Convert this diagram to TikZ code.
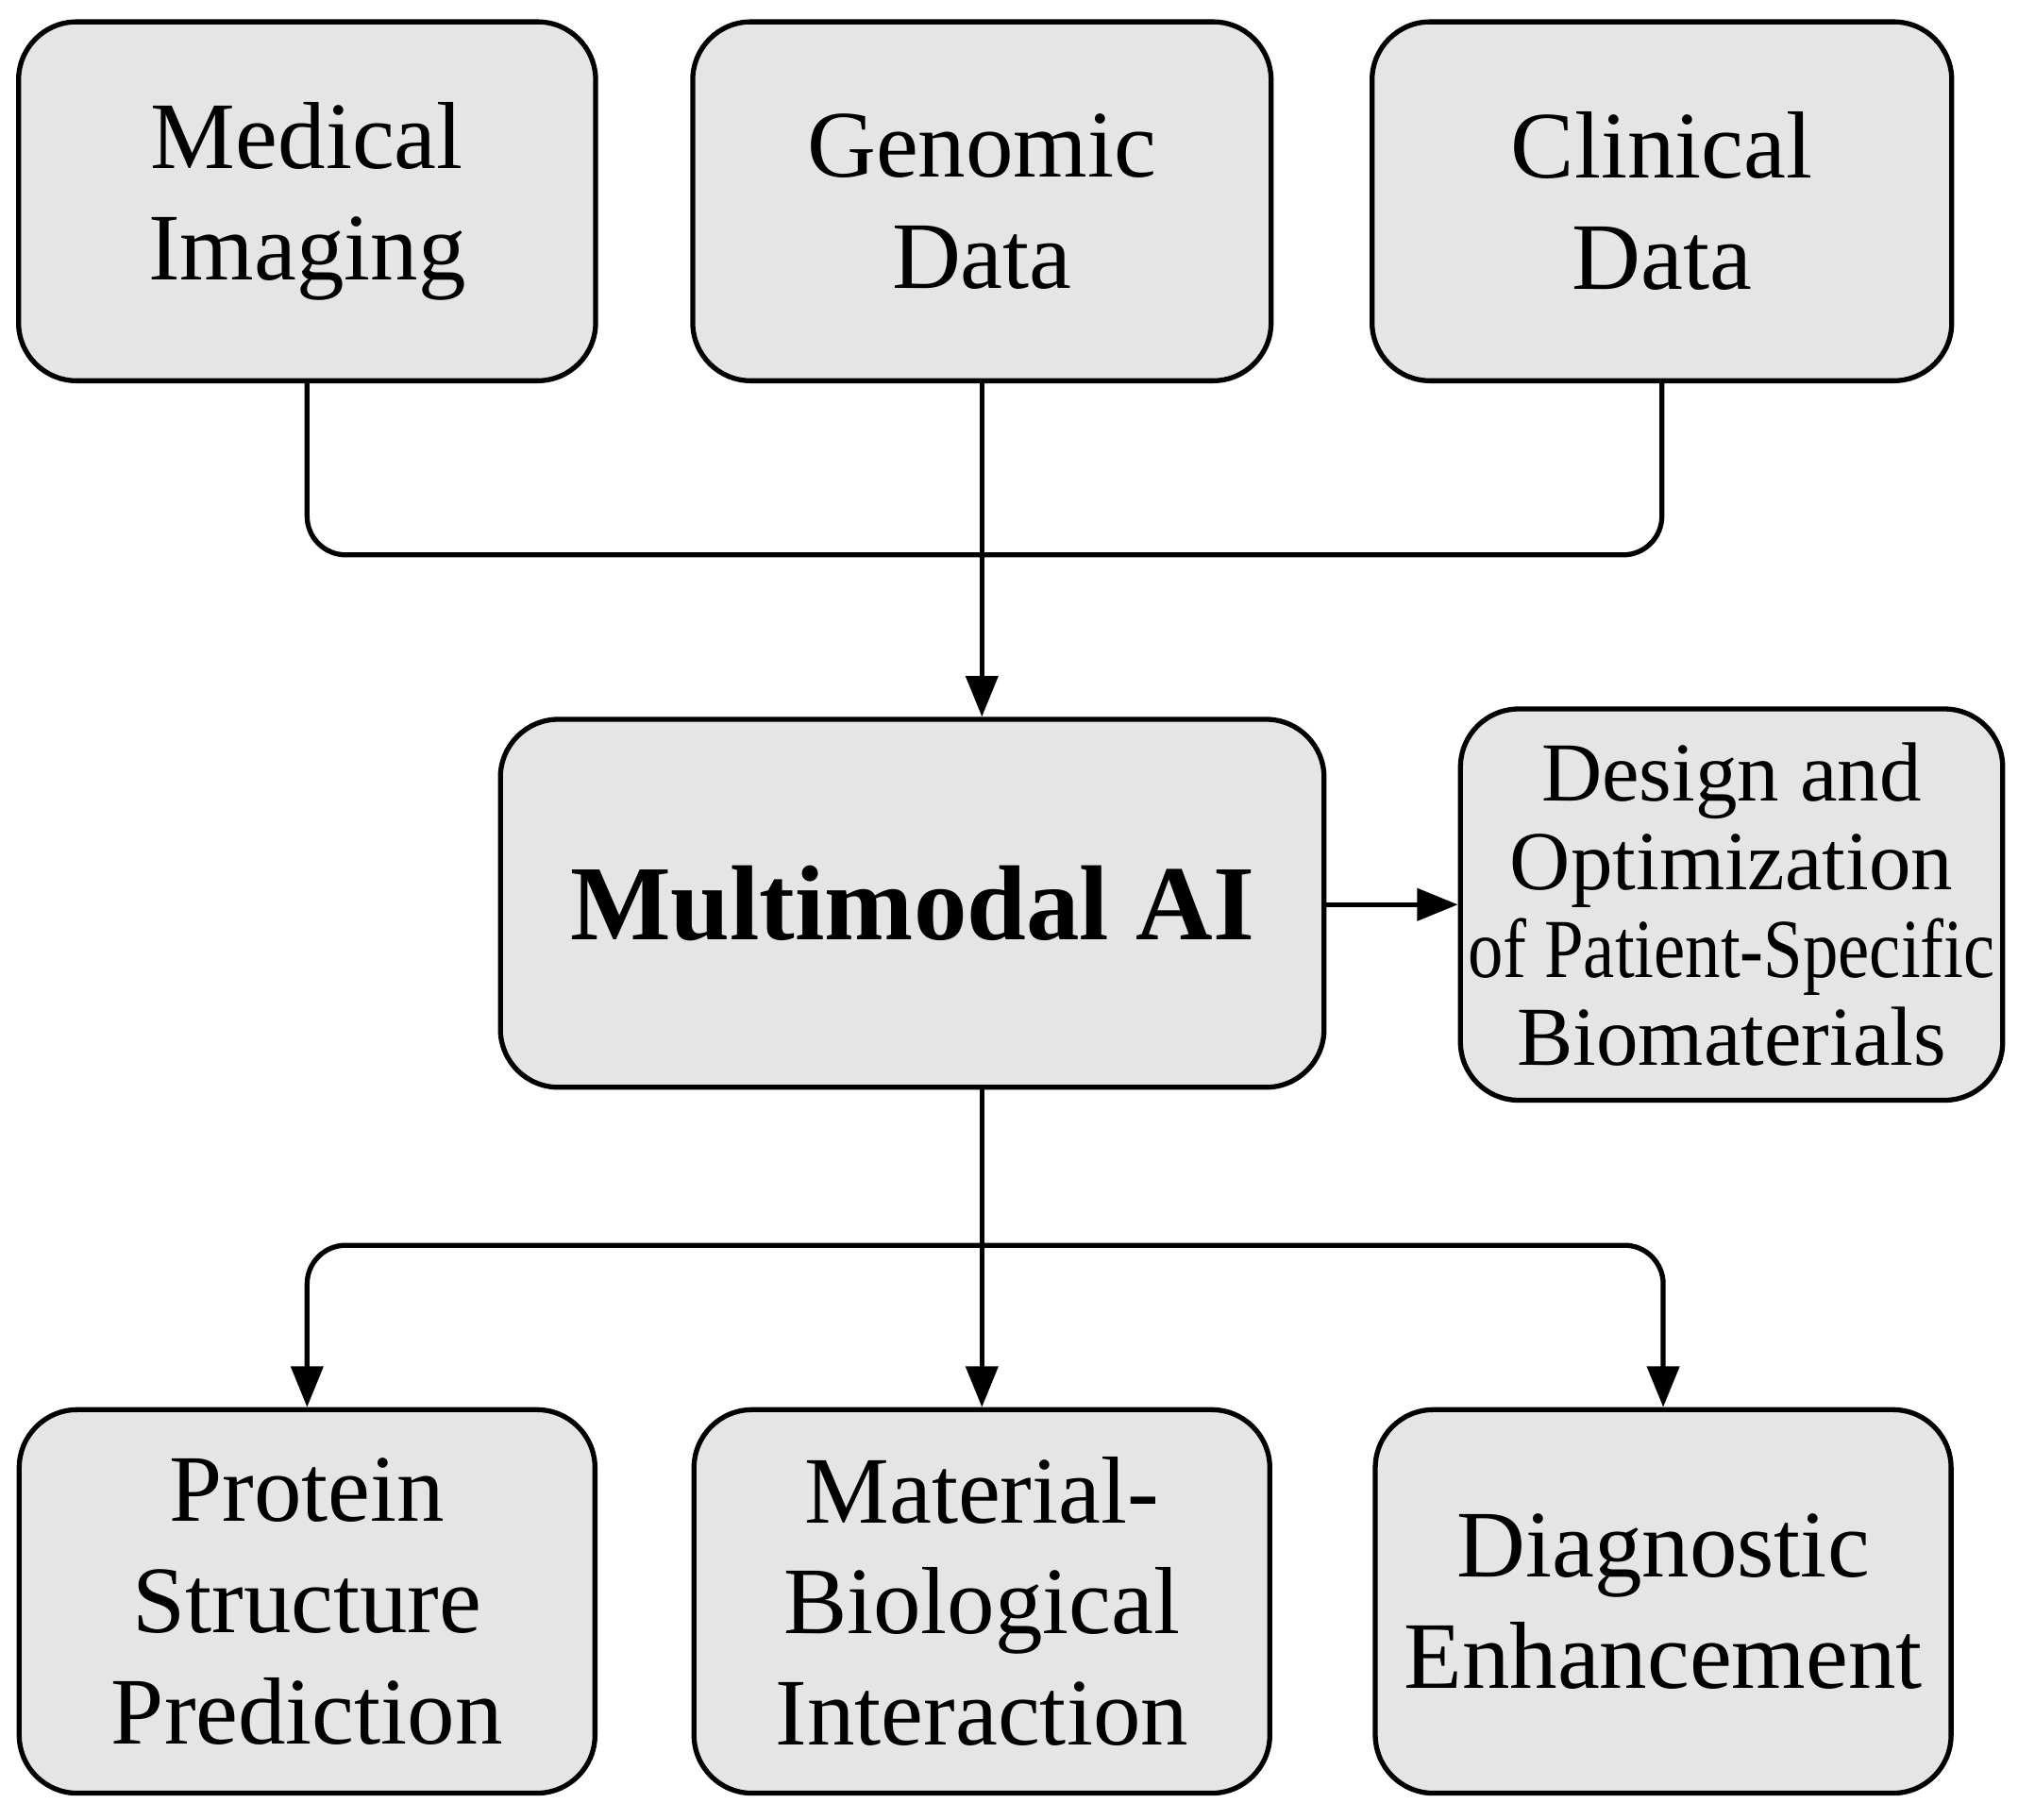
\documentclass[tikz,border=0pt]{standalone}
\usepackage{fontspec}
\usepackage{graphicx}
\setmainfont{Liberation Serif}
\usetikzlibrary{arrows.meta}
\begin{document}
\begin{tikzpicture}[x=0.01cm,y=-0.01cm,
  box/.style={draw=black,line width=1.1pt,fill=gray!20,rounded corners=0.45cm,align=center,inner sep=0pt},
  big/.style={font=\fontsize{21}{24.5}\selectfont},
  conn/.style={line width=1.1pt,rounded corners=0.3cm},
  arr/.style={conn,-{Triangle[length=9pt,width=7pt]}}]
\useasboundingbox (0,0) rectangle (1564,1410);
\node[box,big,minimum width=4.47cm,minimum height=2.78cm] (med) at (238,156) {Medical\\Imaging};
\node[box,big,minimum width=4.48cm,minimum height=2.78cm] (gen) at (761,156) {Genomic\\Data};
\node[box,big,minimum width=4.49cm,minimum height=2.78cm] (cli) at (1288,156) {Clinical\\Data};
\node[box,minimum width=6.38cm,minimum height=2.85cm,font=\bfseries\fontsize{23.5}{26}\selectfont] (ai) at (707,700) {Multimodal AI};
\node[box,minimum width=4.2cm,minimum height=3.03cm,font=\fontsize{18.5}{19.4}\selectfont] (des) at (1342,701) {Design and\\Optimization\\\scalebox{0.84}[1]{of Patient-Specific}\\Biomaterials};
\node[box,big,minimum width=4.46cm,minimum height=2.97cm] (pro) at (238,1241) {Protein\\Structure\\Prediction};
\node[box,big,minimum width=4.46cm,minimum height=2.97cm] (mat) at (761,1241) {Material-\\Biological\\Interaction};
\node[box,big,minimum width=4.46cm,minimum height=2.97cm] (dia) at (1289,1241) {Diagnostic\\Enhancement};
\coordinate (j1) at (238,430);
\coordinate (j2) at (1288,430);
\draw[conn] (med.south) -- (j1) -- (j2) -- (cli.south);
\draw[arr] (gen.south) -- (ai.north -| gen.south);
\draw[arr] (ai.east |- des.west) -- (des.west);
\coordinate (b0) at (761,843);
\draw[arr] (b0) -- (mat.north);
\coordinate (k1) at (238,965);
\coordinate (k2) at (1289,965);
\draw[arr] (761,965) -- (k1) -- (pro.north);
\draw[arr] (761,965) -- (k2) -- (dia.north);
\end{tikzpicture}
\end{document}
